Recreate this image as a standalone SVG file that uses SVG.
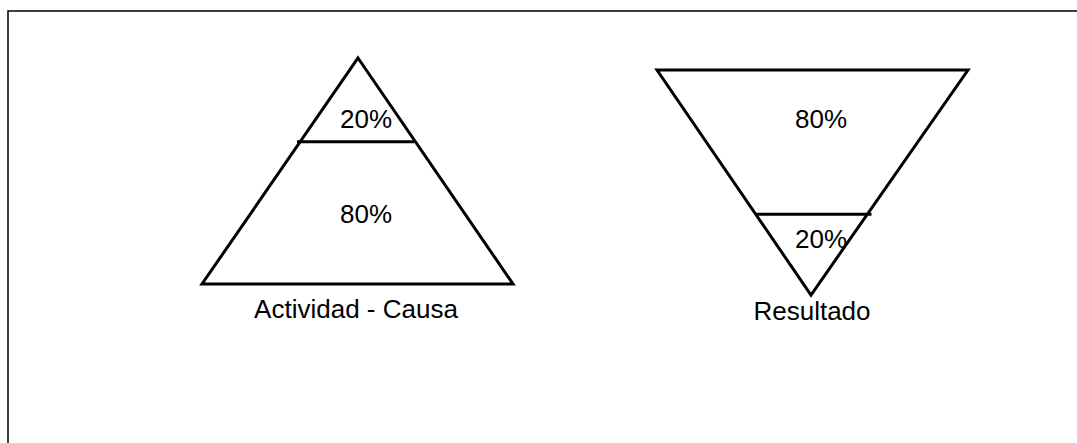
<svg xmlns="http://www.w3.org/2000/svg" width="1077" height="443" viewBox="0 0 1077 443">
<style>
.shape{fill:none;stroke:#000;stroke-width:3;stroke-linejoin:miter}
.lbl{font-family:"Liberation Sans",Arial,sans-serif;font-size:26px;fill:#000}
.c{text-anchor:middle}
</style>
<rect x="0" y="0" width="1077" height="443" fill="#fff"/>
<rect x="8" y="11" width="1100" height="500" fill="none" stroke="#000" stroke-width="1.5"/>
<g id="triangle-actividad">
<polygon class="shape" points="358,58 513,284 202,284"/>
<line class="shape" x1="297" y1="141.7" x2="414" y2="141.7"/>
<text class="lbl c" x="366" y="128">20%</text>
<text class="lbl c" x="366" y="223">80%</text>
<text class="lbl c" x="356" y="318">Actividad - Causa</text>
</g>
<g id="triangle-resultado">
<polygon class="shape" points="657,70 968,70 811,295"/>
<line class="shape" x1="755" y1="214.3" x2="871.5" y2="214.3"/>
<text class="lbl c" x="821" y="128">80%</text>
<text class="lbl c" x="821" y="248">20%</text>
<text class="lbl c" x="812" y="320">Resultado</text>
</g>
<g id="connectors"/>
</svg>
